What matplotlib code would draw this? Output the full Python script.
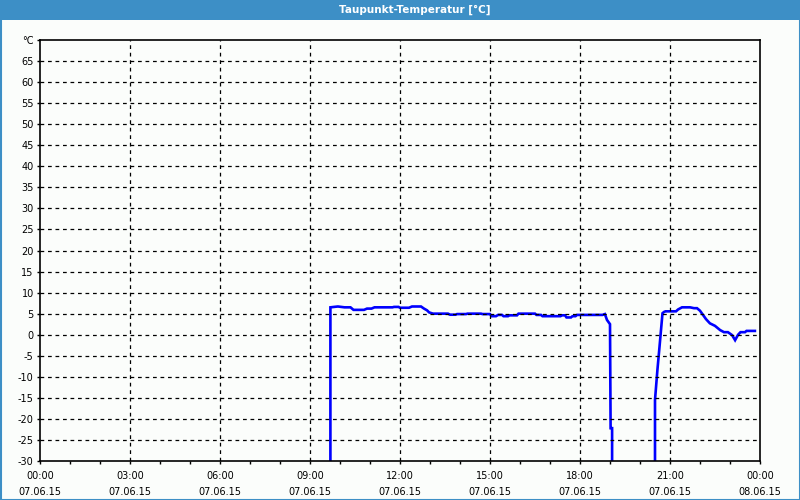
import numpy as np
import matplotlib
matplotlib.use("Agg")
import matplotlib.pyplot as plt
from matplotlib.patches import Rectangle

###########################################################
### Data (hours since 07.06.15 00:00, dew point in degC)
hours = [9.68, 9.68, 9.80, 9.93, 10.15, 10.35, 10.45, 10.80, 10.90, 11.05,
         11.15, 11.75, 11.80, 11.95, 12.00, 12.30, 12.40, 12.70, 12.80, 12.90,
         12.97, 13.10, 13.60, 13.67, 13.85, 13.90, 14.20, 14.25, 14.70, 14.75,
         15.00, 15.05, 15.20, 15.27, 15.40, 15.45, 15.60, 15.65, 15.90, 15.95,
         16.50, 16.55, 16.70, 16.75, 17.35, 17.40, 17.50, 17.55, 17.70, 17.75,
         17.85, 17.90, 18.75, 18.83, 18.90, 18.97, 19.00, 19.02, 19.07, 19.07,
         20.50, 20.50, 20.58, 20.65, 20.75, 20.80, 20.85, 21.20, 21.27, 21.40,
         21.67, 21.80, 21.90, 22.00, 22.10, 22.20, 22.33, 22.50, 22.67, 22.80,
         22.93, 23.07, 23.17, 23.27, 23.35, 23.50, 23.55, 23.83]
dewpoint = [-40, 6.5, 6.6, 6.7, 6.5, 6.5, 5.9, 5.9, 6.2, 6.2,
            6.5, 6.5, 6.6, 6.6, 6.4, 6.4, 6.7, 6.7, 6.2, 5.8,
            5.3, 5.0, 5.0, 4.75, 4.75, 4.9, 4.9, 5.0, 5.0, 4.9,
            4.9, 4.4, 4.4, 4.7, 4.7, 4.4, 4.4, 4.6, 4.6, 5.0,
            5.0, 4.7, 4.7, 4.4, 4.4, 4.6, 4.6, 4.1, 4.1, 4.4,
            4.4, 4.7, 4.7, 4.9, 3.5, 2.8, 2.5, -22.2, -22.2, -40,
            -40, -15.5, -8.4, -2.9, 5.1, 5.4, 5.55, 5.55, 6.0, 6.5,
            6.5, 6.3, 6.3, 5.7, 4.7, 3.7, 2.7, 2.1, 1.1, 0.6,
            0.6, -0.1, -1.3, 0.0, 0.6, 0.6, 0.9, 0.9]

xticks = list(range(0, 25, 3))
xlabels = ["00:00\n07.06.15", "03:00\n07.06.15", "06:00\n07.06.15",
           "09:00\n07.06.15", "12:00\n07.06.15", "15:00\n07.06.15",
           "18:00\n07.06.15", "21:00\n07.06.15", "00:00\n08.06.15"]
yticks = list(range(-30, 70, 5))

title = "Taupunkt-Temperatur [°C]"

###########################################################
### Plot
bar_blue = "#3d8fc6"
bg = "#fbfdfb"

fig = plt.figure(figsize=(8, 5), dpi=100, facecolor=bg)
ax = fig.add_axes([40/800, 39/500, 720/800, 421/500], facecolor=bg)

ax.plot(hours, dewpoint, color="#0000ff", lw=1.9, solid_joinstyle="miter")

ax.set_xlim(0, 24)
ax.set_ylim(-30, 70)

ax.set_xticks(xticks)
ax.set_xticklabels(xlabels, fontsize=7, linespacing=1.65)
ax.set_xticks(range(0, 25), minor=True)
ax.set_yticks(yticks + [70])
ax.set_yticklabels([str(v) for v in yticks] + ["°C"], fontsize=7)

ax.tick_params(axis="both", which="both", direction="out", length=2.5,
               width=1, color="black", pad=2)
ax.tick_params(axis="x", which="major", pad=5)

for y in yticks[1:]:
    ax.axhline(y, color="black", lw=0.9, ls=(0, (3, 3)))
for x in xticks[1:-1]:
    ax.axvline(x, color="black", lw=0.9, ls=(0, (3, 3)))

for s in ax.spines.values():
    s.set_color("black")
    s.set_linewidth(1.2)

# title bar and frame
fig.patches.append(Rectangle((0, 480/500), 1, 20/500, transform=fig.transFigure,
                             facecolor=bar_blue, edgecolor="none", zorder=0))
fig.patches.append(Rectangle((0.5/800, 0.5/500), 799/800, 499/500,
                             transform=fig.transFigure, facecolor="none",
                             edgecolor=bar_blue, lw=1.5, zorder=0))
fig.text(415/800, 490/500, title, color="white", fontsize=7.5,
         fontweight="bold", ha="center", va="center")

fig.savefig("out.png", dpi=100, facecolor=bg)
